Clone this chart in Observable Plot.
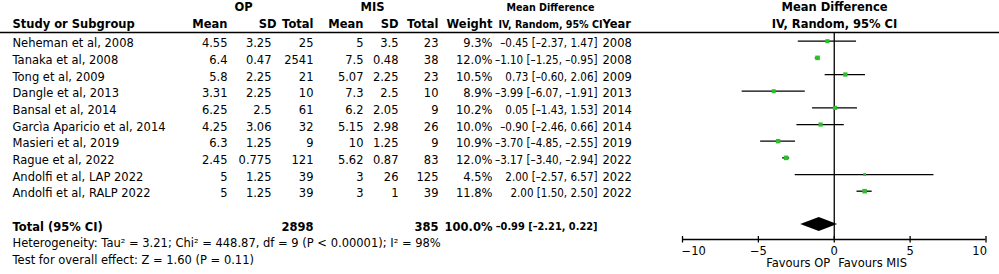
<!DOCTYPE html>
<html><head><meta charset="utf-8">
<script src="https://cdn.jsdelivr.net/npm/d3@7"></script>
<script src="https://cdn.jsdelivr.net/npm/@observablehq/plot@0.6"></script>
<style>html,body{margin:0;padding:0;background:#fff;} svg{display:block}</style>
</head><body><div id="chart"></div>
<script>
// ---- data ----
const studies = ["Neheman et al, 2008","Tanaka et al, 2008","Tong et al, 2009","Dangle et al, 2013","Bansal et al, 2014","Garcìa Aparicio et al, 2014","Masieri et al, 2019","Rague et al, 2022","Andolfi et al, LAP 2022","Andolfi et al, RALP 2022"];
const opMean = [4.55, 6.4, 5.8, 3.31, 6.25, 4.25, 6.3, 2.45, 5, 5];
const opSD = [3.25, 0.47, 2.25, 2.25, 2.5, 3.06, 1.25, 0.775, 1.25, 1.25];
const opTotal = [25, 2541, 21, 10, 61, 32, 9, 121, 39, 39];
const misMean = [5, 7.5, 5.07, 7.3, 6.2, 5.15, 10, 5.62, 3, 3];
const misSD = [3.5, 0.48, 2.25, 2.5, 2.05, 2.98, 1.25, 0.87, 26, 1];
const misTotal = [23, 38, 23, 10, 9, 26, 9, 83, 125, 39];
const weight = [9.3, 12.0, 10.5, 8.9, 10.2, 10.0, 10.9, 12.0, 4.5, 11.8];
const md = [-0.45, -1.10, 0.73, -3.99, 0.05, -0.90, -3.70, -3.17, 2.00, 2.00];
const ciLow = [-2.37, -1.25, -0.60, -6.07, -1.43, -2.46, -4.85, -3.40, -2.57, 1.50];
const ciHigh = [1.47, -0.95, 2.06, -1.91, 1.53, 0.66, -2.55, -2.94, 6.57, 2.50];
const years = [2008, 2008, 2009, 2013, 2014, 2014, 2019, 2022, 2022, 2022];
const total = {label: "Total (95% CI)", op: 2898, mis: 385, weight: 100.0, md: -0.99, lo: -2.21, hi: 0.22};
const heterogeneity = "Heterogeneity: Tau² = 3.21; Chi² = 448.87, df = 9 (P < 0.00001); I² = 98%";
const overall = "Test for overall effect: Z = 1.60 (P = 0.11)";
const xTicks = [-10, -5, 0, 5, 10];
const favours = ["Favours OP", "Favours MIS"];

// ---- layout ----
const FONT = "DejaVu Sans";
const NARROW = "'DejaVu Sans Condensed', 'DejaVu Sans'";
const FS = 11.5;
const TXT_DY = 2.4;
const ROW_TOTAL = 11, ROW_HET = 12, ROW_TEST = 13;
const ROW_H1 = -2.18, ROW_H2 = -1.15;
const AXIS_ROW = (239 - 40.7) / (150 / 9);
const green = "#2cbf2c";
const X_WEIGHT = 492, X_CI = 597, X_YEAR = 602, X_MDHEAD = 550;

const num = v => String(v);
const signed = v => (v < 0 ? "–" : "") + Math.abs(v).toFixed(2);
const ciText = (m, l, h) => `${signed(m)} [${signed(l)}, ${signed(h)}]`;

const rows = studies.map((s, i) => ({
  i, study: s, opMean: opMean[i], opSD: opSD[i], opTotal: opTotal[i],
  misMean: misMean[i], misSD: misSD[i], misTotal: misTotal[i],
  weight: weight[i], md: md[i], lo: ciLow[i], hi: ciHigh[i], year: years[i]
}));

function col(data, y, text, x, anchor, extra = {}) {
  return Plot.text(data, {y, text, frameAnchor: "left", dx: x, textAnchor: anchor, dy: TXT_DY, fontSize: FS, fill: "#000", ...extra});
}
const B = {fontWeight: "bold"};
const N = {fontFamily: NARROW, fontSize: 11.5};
const NB = {fontFamily: NARROW, fontWeight: "bold", fontSize: 10.6};
const hdr1 = [{t: "OP", x: 243}, {t: "MIS", x: 372}, {t: "Mean Difference", x: X_MDHEAD, n: true}, {t: "Mean Difference", x: 834}];
const hdr2 = [
  {t: "Study or Subgroup", x: 12, a: "start"}, {t: "Mean", x: 227, a: "end"}, {t: "SD", x: 276, a: "end"},
  {t: "Total", x: 313, a: "end"}, {t: "Mean", x: 363, a: "end"}, {t: "SD", x: 398, a: "end"},
  {t: "Total", x: 438, a: "end"}, {t: "Weight", x: X_WEIGHT, a: "end"}, {t: "IV, Random, 95% CI", x: X_MDHEAD, a: "middle", n: true},
  {t: "Year", x: X_YEAR, a: "start"}, {t: "IV, Random, 95% CI", x: 834, a: "middle"}
];

const diamond = [
  {y: ROW_TOTAL - 0.42, x1: total.md, x2: total.md},
  {y: ROW_TOTAL, x1: total.lo, x2: total.hi},
  {y: ROW_TOTAL + 0.42, x1: total.md, x2: total.md}
];

const marks = [
  Plot.frame({anchor: "top", stroke: "#000", strokeWidth: 1.3}),
  // headers
  ...hdr1.map(h => col([h], () => ROW_H1, d => d.t, h.x, "middle", h.n ? NB : B)),
  ...hdr2.map(h => col([h], () => ROW_H2, d => d.t, h.x, h.a, h.n ? NB : B)),
  // study rows
  col(rows, "i", "study", 12, "start"),
  col(rows, "i", d => num(d.opMean), 227, "end"),
  col(rows, "i", d => num(d.opSD), 271, "end"),
  col(rows, "i", d => num(d.opTotal), 313, "end"),
  col(rows, "i", d => num(d.misMean), 363, "end"),
  col(rows, "i", d => num(d.misSD), 398, "end"),
  col(rows, "i", d => num(d.misTotal), 438, "end"),
  col(rows, "i", d => d.weight.toFixed(1) + "%", X_WEIGHT, "end"),
  col(rows, "i", d => ciText(d.md, d.lo, d.hi), X_CI, "end", N),
  col(rows, "i", d => num(d.year), X_YEAR, "start"),
  // total row
  col([total], () => ROW_TOTAL, d => d.label, 12, "start", B),
  col([total], () => ROW_TOTAL, d => num(d.op), 313, "end", B),
  col([total], () => ROW_TOTAL, d => num(d.mis), 438, "end", B),
  col([total], () => ROW_TOTAL, d => d.weight.toFixed(1) + "%", X_WEIGHT, "end", B),
  col([total], () => ROW_TOTAL, d => ciText(d.md, d.lo, d.hi), X_CI, "end", {...NB, fontSize: 10.9}),
  col([heterogeneity], () => ROW_HET, d => d, 12, "start"),
  col([overall], () => ROW_TEST, d => d, 12, "start"),
  // forest
  Plot.ruleX([0], {stroke: "#000", strokeWidth: 1.3}),
  Plot.ruleY(rows, {y: "i", x1: "lo", x2: "hi", stroke: "#000", strokeWidth: 1.3}),
  Plot.dot(rows, {y: "i", x: "md", r: "weight", symbol: "square", fill: green, stroke: null}),
  Plot.areaX(diamond, {y: "y", x1: "x1", x2: "x2", fill: "#000"}),
  // axis
  Plot.ruleY([AXIS_ROW], {x1: -10, x2: 10, stroke: "#000", strokeWidth: 1.3}),
  Plot.axisX(xTicks, {anchor: "bottom", tickSize: 6.5, dy: -3, tickFormat: () => "", strokeWidth: 1.3}),
  Plot.axisX([-10], {anchor: "bottom", tickSize: 0, tickPadding: 7, textAnchor: "start", dx: -1, fontSize: FS, tickFormat: d => "−" + Math.abs(d)}),
  Plot.axisX([-5, 0, 5], {anchor: "bottom", tickSize: 0, tickPadding: 7, fontSize: FS, tickFormat: d => (d < 0 ? "−" : "") + Math.abs(d)}),
  Plot.axisX([10], {anchor: "bottom", tickSize: 0, tickPadding: 7, textAnchor: "end", dx: 1, fontSize: FS}),
  Plot.text([favours[0]], {x: () => 0, frameAnchor: "bottom", dy: 27, dx: -4, textAnchor: "end", text: d => d, fontSize: FS}),
  Plot.text([favours[1]], {x: () => 0, frameAnchor: "bottom", dy: 27, dx: 4, textAnchor: "start", text: d => d, fontSize: FS})
];

const chart = Plot.plot({
  width: 999, height: 274,
  marginTop: 32, marginBottom: 35, marginLeft: 0, marginRight: 0,
  style: {fontFamily: FONT, fontSize: FS + "px", background: "#fff", color: "#000"},
  x: {domain: [-10, 10], range: [682, 985.5], axis: null},
  y: {type: "linear", domain: [0, 9], range: [40.7, 190.7], axis: null},
  r: {domain: [0, 12], range: [0, 2.6]},
  marks
});
document.getElementById("chart").append(chart);
</script>
</body></html>
